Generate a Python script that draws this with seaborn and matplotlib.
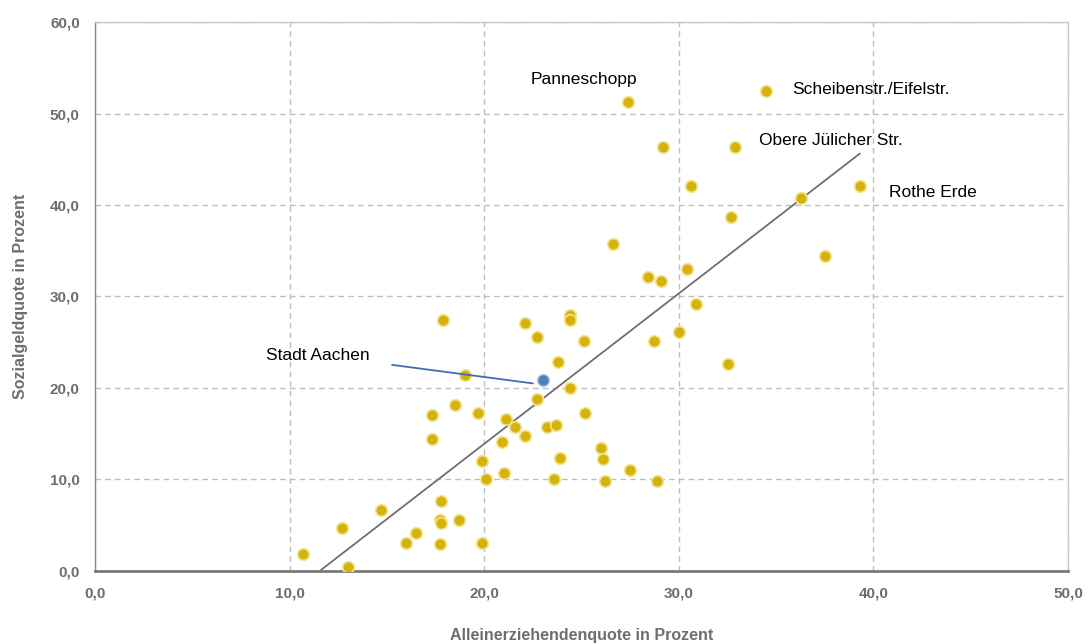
import numpy as np
import matplotlib
matplotlib.use('Agg')
import matplotlib.pyplot as plt
from matplotlib.ticker import FuncFormatter
import seaborn as sns

# Alleinerziehendenquote (x) und Sozialgeldquote (y) je Lebensraum
x_vals = [10.7, 12.7, 13.0, 14.7, 16.5, 16.0, 17.7, 17.7, 17.8, 18.7, 17.8, 19.9,
          17.3, 17.3, 18.5, 19.7, 17.9, 19.0, 19.9, 20.1, 21.0, 20.9, 21.1, 21.6,
          22.1, 22.1, 22.7, 22.7, 23.8, 23.2, 23.7, 24.4, 24.4, 25.1, 24.4, 25.2,
          23.9, 23.6, 26.0, 26.1, 26.2, 27.4, 34.5, 29.2, 32.9, 30.6, 39.3, 36.3,
          32.7, 26.6, 37.5, 28.4, 29.1, 30.4, 30.9, 30.0, 28.7, 32.5, 27.5, 28.9]
y_vals = [1.9, 4.7, 0.4, 6.7, 4.2, 3.1, 3.0, 5.6, 7.6, 5.6, 5.2, 3.1,
          14.4, 17.1, 18.1, 17.3, 27.4, 21.4, 12.0, 10.0, 10.7, 14.1, 16.6, 15.7,
          14.8, 27.1, 25.6, 18.8, 22.8, 15.7, 15.9, 28.0, 27.4, 25.1, 20.0, 17.3,
          12.3, 10.0, 13.4, 12.2, 9.8, 51.3, 52.5, 46.3, 46.3, 42.1, 42.1, 40.8,
          38.7, 35.7, 34.4, 32.1, 31.7, 33.0, 29.2, 26.1, 25.1, 22.6, 11.0, 9.8]

city_x = [23.0]
city_y = [20.9]

labels = ["Panneschopp", "Scheibenstr./Eifelstr.", "Obere Jülicher Str.", "Rothe Erde"]
label_x = [25.1, 35.8, 34.1, 40.8]
label_y = [53.7, 52.6, 47.0, 41.4]
label_ha = ["center", "left", "left", "left"]

sns.set_style("white")
plt.rcParams['font.family'] = ['Liberation Sans Narrow', 'Liberation Sans', 'DejaVu Sans']

fig = plt.figure(figsize=(10.9, 6.44), dpi=100)
ax = fig.add_axes([0.0872, 0.1134, 0.8927, 0.8524])

gold = '#D4B20C'
sns.scatterplot(x=x_vals, y=y_vals, ax=ax, s=70, color=gold,
                edgecolor='#F3E38C', linewidth=1.2, zorder=3)
sns.regplot(x=np.array(x_vals), y=np.array(y_vals), ax=ax, scatter=False, ci=None,
            truncate=True, line_kws={'color': '#6E6E6E', 'linewidth': 1.3, 'zorder': 2})
sns.scatterplot(x=city_x, y=city_y, ax=ax, s=70, color='#4F81BD',
                edgecolor='#A9C3E3', linewidth=1.0, zorder=4)

ax.annotate("Stadt Aachen", xy=(22.5, 20.5), xytext=(14.1, 23.6),
            ha='right', va='center', fontsize=12.5, color='black',
            arrowprops=dict(arrowstyle='-', color='#3F6FB0', lw=1.3,
                            shrinkA=14, shrinkB=0))

for t, lx, ly, h in zip(labels, label_x, label_y, label_ha):
    ax.text(lx, ly, t, ha=h, va='center', fontsize=12.5, color='black')

ax.set_xlim(0, 50)
ax.set_ylim(0, 60)
ax.set_xticks(np.arange(0, 51, 10))
ax.set_yticks(np.arange(0, 61, 10))
fmt = FuncFormatter(lambda v, p: f"{v:.1f}".replace('.', ','))
ax.xaxis.set_major_formatter(fmt)
ax.yaxis.set_major_formatter(fmt)

ax.grid(True, linestyle=(0, (4, 3)), color='#BDBDBD', linewidth=1.0)
ax.set_axisbelow(True)
for side in ['top', 'right']:
    ax.spines[side].set_color('#C8C8C8')
    ax.spines[side].set_linewidth(1.0)
ax.spines['left'].set_color('#8A8A8A')
ax.spines['left'].set_linewidth(1.0)
ax.spines['bottom'].set_color('#7A7A7A')
ax.spines['bottom'].set_linewidth(2.0)

ax.tick_params(axis='both', direction='out', length=5, width=1, color='#7A7A7A',
               labelsize=11, labelcolor='#6E6E6E', pad=6)
for lab in ax.get_xticklabels() + ax.get_yticklabels():
    lab.set_fontweight('bold')

ax.set_xlabel("Alleinerziehendenquote in Prozent", fontsize=11.5, fontweight='bold',
              color='#6E6E6E', labelpad=20)
ax.set_ylabel("Sozialgeldquote in Prozent", fontsize=11.5, fontweight='bold',
              color='#6E6E6E', labelpad=16)

fig.savefig('out.png', dpi=100)
